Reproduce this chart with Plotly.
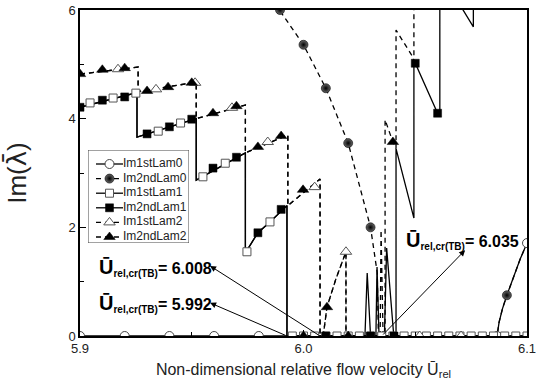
import plotly.graph_objects as go

# ---------------- data ----------------
# Im1stLam0 : open circles, solid line
lam0_1_x = [5.900, 6.0866, 6.0875, 6.089, 6.091, 6.094, 6.097, 6.100]
lam0_1_y = [0.00, 0.00, 0.25, 0.50, 0.75, 1.10, 1.42, 1.71]
lam0_1_mx = [5.90, 5.92, 5.94, 5.96, 5.98, 6.0866, 6.100]
lam0_1_my = [0.00, 0.00, 0.00, 0.00, 0.00, 0.00, 1.71]

# Im2ndLam0 : filled balls, dashed line
lam0_2_x = [5.985, 6.000, 6.010, 6.020, 6.030, 6.033, 6.0335, 6.0866, 6.0875, 6.089, 6.091, 6.094, 6.097, 6.100]
lam0_2_y = [6.25, 5.36, 4.56, 3.55, 2.00, 1.16, 0.00, 0.00, 0.25, 0.50, 0.75, 1.10, 1.42, 1.71]
lam0_2_mx = [5.9895, 6.000, 6.010, 6.020, 6.030, 6.091]
lam0_2_my = [6.00, 5.36, 4.56, 3.55, 2.00, 0.75]

# Im1stLam1 : open squares, solid line
lam1_1_x = [5.900, 5.9255, 5.9255, 5.952, 5.952, 5.974, 5.974, 5.9796, 5.985, 5.9926, 5.9926, 6.100]
lam1_1_y = [4.21, 4.48, 3.66, 4.00, 2.87, 3.37, 1.53, 1.90, 2.10, 2.40, 0.00, 0.00]
lam1_1_mx = [5.9045, 5.9148, 5.925, 5.935, 5.945, 5.955, 5.965, 5.9747, 5.985,
             5.995, 6.000, 6.005, 6.010, 6.015, 6.020, 6.025, 6.030, 6.035, 6.040, 6.045,
             6.050, 6.055, 6.060, 6.065, 6.070, 6.075, 6.080, 6.085, 6.090, 6.095, 6.100]
lam1_1_my = [4.29, 4.38, 4.47, 3.77, 3.92, 2.93, 3.18, 1.55, 2.10,
             0, 0, 0, 0, 0, 0, 0, 0, 0, 0, 0, 0, 0, 0, 0, 0, 0, 0, 0, 0, 0, 0]

# Im2ndLam1 : filled squares, solid line
lam1_2_x = [5.900, 5.9255, 5.9255, 5.952, 5.952, 5.974, 5.974, 5.9796, 5.985, 5.9926, 5.9926,
            6.0275, 6.0285, 6.0300, 6.0324, 6.0329, 6.0338, 6.0362, 6.0372, 6.0404,
            6.0414, 6.0414, 6.0494, 6.0494, 6.050, 6.060, 6.061, 6.061, 6.076, 6.076]
lam1_2_y = [4.21, 4.48, 3.66, 4.00, 2.87, 3.37, 1.53, 1.90, 2.10, 2.40, 0.00,
            0.00, 1.16, 0.00, 0.00, 1.27, 0.00, 0.00, 1.62, 0.00,
            0.00, 3.45, 2.17, 5.02, 5.02, 4.10, 4.08, 6.70, 5.69, 6.50]
lam1_2_mx = [5.900, 5.910, 5.920, 5.930, 5.940, 5.950, 5.9595, 5.970, 5.9796, 5.990,
             6.010, 6.030, 6.0405, 6.050, 6.060]
lam1_2_my = [4.21, 4.34, 4.40, 3.72, 3.85, 3.99, 3.09, 3.29, 1.90, 2.33,
             0.00, 0.00, 0.00, 5.02, 4.10]

# Im1stLam2 : open triangles, dashed line
lam2_1_x = [5.900, 5.926, 5.926, 5.952, 5.952, 5.974, 5.974, 5.993, 5.993, 6.0074, 6.0074, 6.100,
            None, 6.0088, 6.0105, 6.0145, 6.019, 6.019,
            None, 6.0343, 6.0347, 6.0356]
lam2_1_y = [4.82, 4.95, 4.50, 4.67, 4.00, 4.25, 3.37, 3.70, 2.40, 2.89, 0.00, 0.00,
            None, 0.00, 0.53, 1.05, 1.55, 0.00,
            None, 0.00, 1.95, 0.00]
lam2_1_mx = [5.917, 5.934, 5.9515, 5.968, 5.984, 6.005, 6.019, 6.052, 6.0705]
lam2_1_my = [4.91, 4.54, 4.66, 4.20, 3.57, 2.74, 1.55, 0.00, 0.00]

# Im2ndLam2 : filled triangles, dashed line
lam2_2_x = [5.900, 5.926, 5.926, 5.952, 5.952, 5.974, 5.974, 5.993, 5.993, 6.0074, 6.0074,
            6.0088, 6.0105, 6.0145, 6.019, 6.019, 6.0365, 6.0365, 6.040, 6.0414, 6.0414,
            6.049, 6.0494, 6.0494]
lam2_2_y = [4.82, 4.95, 4.50, 4.67, 4.00, 4.25, 3.37, 3.70, 2.40, 2.89, 0.00,
            0.00, 0.53, 1.05, 1.55, 0.00, 0.00, 3.98, 3.57, 3.45, 5.63,
            5.13, 5.05, 6.20]
lam2_2_mx = [5.900, 5.910, 5.920, 5.930, 5.9394, 5.950, 5.9595, 5.970, 5.9796, 5.990,
             5.9998, 6.0105, 6.040, 6.000, 6.020]
lam2_2_my = [4.82, 4.90, 4.93, 4.51, 4.58, 4.66, 4.10, 4.23, 3.48, 3.68,
             2.69, 0.53, 3.57, 0.00, 0.00]

# critical velocities: arrow origins (on the axis), arrow heads (near the label), label anchors
crit_labels = ["6.008", "5.992", "6.035"]
crit_points = [6.0074, 5.9926, 6.0350]
crit_arrow_head = [(5.9582, 1.29), (5.9582, 0.61), (6.0723, 1.58)]
crit_label_pos = [(5.9075, 1.27), (5.9075, 0.59), (6.0450, 1.76)]

x_ticks = [5.9, 6.0, 6.1]
x_ticklabels = ["5.9", "6.0", "6.1"]
y_ticks = [0, 2, 4, 6]

# ---------------- styling ----------------
FONT = "Liberation Sans, Arial, sans-serif"
DASH = "5px,4px"

series = [
    dict(name="Im1stLam0", x=lam0_1_x, y=lam0_1_y, mx=lam0_1_mx, my=lam0_1_my,
         dash="solid", marker=dict(symbol="circle", size=9, color="white",
                                   line=dict(color="#444", width=1))),
    dict(name="Im2ndLam0", x=lam0_2_x, y=lam0_2_y, mx=lam0_2_mx, my=lam0_2_my,
         dash=DASH, marker=dict(symbol="circle", size=9, color="#666",
                                gradient=dict(type="radial", color="black"),
                                line=dict(color="black", width=0.6))),
    dict(name="Im1stLam1", x=lam1_1_x, y=lam1_1_y, mx=lam1_1_mx, my=lam1_1_my,
         dash="solid", marker=dict(symbol="square", size=8, color="white",
                                   line=dict(color="#555", width=1))),
    dict(name="Im2ndLam1", x=lam1_2_x, y=lam1_2_y, mx=lam1_2_mx, my=lam1_2_my,
         dash="solid", marker=dict(symbol="square", size=8, color="black",
                                   line=dict(color="black", width=0.5))),
    dict(name="Im1stLam2", x=lam2_1_x, y=lam2_1_y, mx=lam2_1_mx, my=lam2_1_my,
         dash=DASH, marker=dict(symbol="triangle-up", size=10, color="white",
                                line=dict(color="#555", width=1))),
    dict(name="Im2ndLam2", x=lam2_2_x, y=lam2_2_y, mx=lam2_2_mx, my=lam2_2_my,
         dash=DASH, marker=dict(symbol="triangle-up", size=10, color="black",
                                line=dict(color="black", width=0.5))),
]

fig = go.Figure()

# lines
for s in series:
    fig.add_trace(go.Scatter(x=s["x"], y=s["y"], mode="lines", showlegend=False,
                             line=dict(color="black", width=1.3, dash=s["dash"]),
                             hoverinfo="skip"))
# markers
for s in series:
    fig.add_trace(go.Scatter(x=s["mx"], y=s["my"], mode="markers", showlegend=False,
                             marker=s["marker"], name=s["name"]))

# ---------------- legend (inset box on its own small axes) ----------------
LEG_W, LEG_H = 101, 93          # box size in px-like legend units
ROW0, ROW_STEP = 14, 14.6
fig.add_trace(go.Scatter(x=[0, LEG_W, LEG_W, 0, 0], y=[0, 0, LEG_H, LEG_H, 0],
                         xaxis="x2", yaxis="y2", mode="lines", fill="toself",
                         fillcolor="white", line=dict(color="#444", width=1),
                         showlegend=False, hoverinfo="skip", cliponaxis=False))
for i, s in enumerate(series):
    ry = ROW0 + ROW_STEP * i
    fig.add_trace(go.Scatter(x=[8, 35], y=[ry, ry], xaxis="x2", yaxis="y2", mode="lines",
                             line=dict(color="black", width=1.3, dash=s["dash"]),
                             showlegend=False, hoverinfo="skip", cliponaxis=False))
    fig.add_trace(go.Scatter(x=[21.5], y=[ry], xaxis="x2", yaxis="y2", mode="markers",
                             marker=s["marker"],
                             showlegend=False, hoverinfo="skip", cliponaxis=False))
    fig.add_trace(go.Scatter(x=[35], y=[ry], xaxis="x2", yaxis="y2", mode="text",
                             text=[s["name"]], textposition="middle right",
                             textfont=dict(family=FONT, size=12, color="#222"),
                             showlegend=False, hoverinfo="skip", cliponaxis=False))

# annotations: label text + separate arrow
for lab, px, (hx, hy), (lx, ly) in zip(crit_labels, crit_points, crit_arrow_head, crit_label_pos):
    fig.add_annotation(
        x=lx, y=ly, xref="x", yref="y", xanchor="left", yanchor="middle",
        text=('<b><span style="font-size:20px">Ū</span>'
              '<sub><span style="font-size:10px">rel,cr(TB)</span></sub>= ' + lab + '</b>'),
        font=dict(family=FONT, size=16, color="black"), showarrow=False,
    )
    fig.add_annotation(
        x=hx, y=hy, xref="x", yref="y", ax=px, ay=0, axref="x", ayref="y",
        text="", showarrow=True, arrowside="end", arrowhead=2, arrowsize=1.2,
        arrowwidth=1, arrowcolor="black", standoff=0,
    )

fig.update_layout(
    width=544, height=387,
    margin=dict(l=80, r=17, t=10, b=51),
    paper_bgcolor="white", plot_bgcolor="white",
    font=dict(family=FONT, size=13, color="#222"),
    showlegend=False,
    xaxis=dict(
        range=[5.9, 6.1], tickvals=x_ticks, ticktext=x_ticklabels, automargin=False,
        showgrid=False, zeroline=False, showline=True, mirror=True,
        linecolor="black", linewidth=1.5, ticks="inside", ticklen=6, tickcolor="black",
        minor=dict(dtick=0.05, tick0=5.9, ticks="inside", ticklen=4, tickcolor="black"),
        tickfont=dict(size=13),
        title=dict(text="Non-dimensional relative flow velocity Ū<sub>rel</sub>",
                   font=dict(size=16, color="#222"), standoff=8),
    ),
    yaxis=dict(
        range=[0, 6], tickvals=y_ticks, automargin=False,
        showgrid=False, zeroline=False, showline=True, mirror=True,
        linecolor="black", linewidth=1.5, ticks="inside", ticklen=6, tickcolor="black",
        minor=dict(dtick=1, ticks="inside", ticklen=4, tickcolor="black"),
        tickfont=dict(size=13),
        title=dict(text='Im(<span style="font-family:DejaVu Sans">λ\u0304</span>)',
                   font=dict(size=26, color="#222"), standoff=34),
    ),
    xaxis2=dict(domain=[(88 - 80) / 447, (189 - 80) / 447], range=[0, LEG_W],
                visible=False, fixedrange=True),
    yaxis2=dict(domain=[(336 - 243) / 326, (336 - 150) / 326], range=[LEG_H, 0],
                visible=False, fixedrange=True),
)

fig.write_html("out.html", config={"displayModeBar": False},
               post_script="document.body.style.margin='0px';")
